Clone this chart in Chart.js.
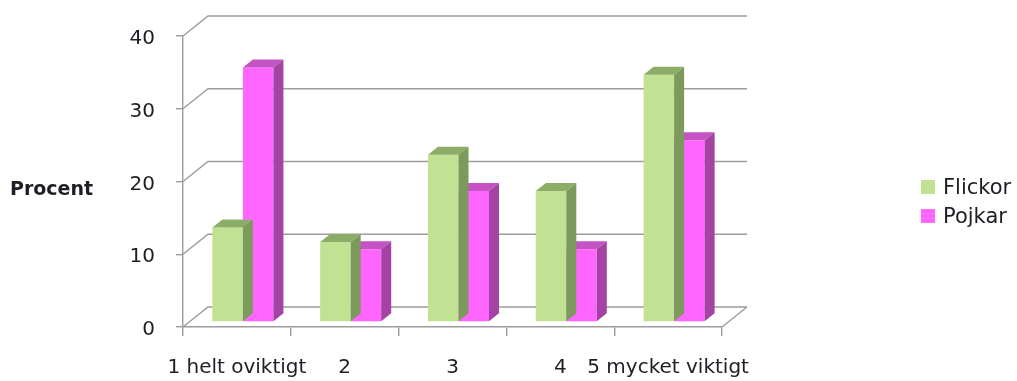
<!DOCTYPE html>
<html>
<head>
<meta charset="utf-8">
<script src="https://cdn.jsdelivr.net/npm/chart.js@4/dist/chart.umd.min.js"></script>
<style>
  html, body { margin: 0; padding: 0; background: #ffffff; }
  #wrap { width: 1017px; height: 381px; }
</style>
</head>
<body>
<div id="wrap"><canvas id="chart" width="1017" height="381"></canvas></div>
<script>
// Survey answers, share of respondents in percent
const categories = ['1 helt oviktigt', '2', '3', '4', '5 mycket viktigt'];
const flickor = [13, 11, 23, 18, 34];
const pojkar = [35, 10, 18, 10, 25];
const seriesNames = ['Flickor', 'Pojkar'];
const yTickValues = [0, 10, 20, 30, 40];
const axisTitle = 'Procent';

// Face colours for the pseudo-3D columns: front, side, top
const palette = [
  { front: '#c0e292', side: '#7b9a5c', top: '#8cad68' },
  { front: '#ff66ff', side: '#a443a4', top: '#c453c4' }
];

const FONT = 'DejaVu Sans';
const TEXT = '#1e1e24';
const GRID = '#9c9c9c';
const DEPTH = { x: 25, y: -20 };   // floor/wall depth
const PLANE = { x: 6, y: -5 };     // where the columns stand inside the box
const BAR_DEPTH = { x: 10, y: -8 }; // thickness of each column

const box3d = {
  id: 'box3d',
  beforeDatasetsDraw(chart) {
    const { ctx, chartArea: a, scales: { y } } = chart;
    ctx.save();
    ctx.strokeStyle = GRID;
    ctx.lineWidth = 1.4;
    ctx.beginPath();
    yTickValues.forEach(v => {
      const py = y.getPixelForValue(v);
      ctx.moveTo(a.left, py);
      ctx.lineTo(a.left + DEPTH.x, py + DEPTH.y);
      ctx.lineTo(a.right + DEPTH.x, py + DEPTH.y);
    });
    ctx.moveTo(a.right, a.bottom);
    ctx.lineTo(a.right + DEPTH.x, a.bottom + DEPTH.y);
    ctx.stroke();
    ctx.restore();
    // columns stand a little behind the front edge of the floor
    ctx.save();
    ctx.translate(PLANE.x, PLANE.y);
  },
  afterDatasetDraw(chart, args) {
    const { ctx } = chart;
    const col = palette[args.index];
    args.meta.data.forEach(el => {
      const { x, y, base, width } = el.getProps(['x', 'y', 'base', 'width'], true);
      const l = x - width / 2, r = x + width / 2;
      ctx.fillStyle = col.top;
      ctx.beginPath();
      ctx.moveTo(l, y);
      ctx.lineTo(r, y);
      ctx.lineTo(r + BAR_DEPTH.x, y + BAR_DEPTH.y);
      ctx.lineTo(l + BAR_DEPTH.x, y + BAR_DEPTH.y);
      ctx.closePath();
      ctx.fill();
      ctx.fillStyle = col.side;
      ctx.beginPath();
      ctx.moveTo(r, y);
      ctx.lineTo(r + BAR_DEPTH.x, y + BAR_DEPTH.y);
      ctx.lineTo(r + BAR_DEPTH.x, base + BAR_DEPTH.y);
      ctx.lineTo(r, base);
      ctx.closePath();
      ctx.fill();
    });
  },
  afterDatasetsDraw(chart) {
    chart.ctx.restore();
  },
  afterDraw(chart) {
    const { ctx } = chart;
    ctx.save();
    // horizontal axis title on the left
    ctx.fillStyle = TEXT;
    ctx.font = 'bold 19px "' + FONT + '"';
    ctx.textBaseline = 'middle';
    ctx.textAlign = 'left';
    ctx.fillText(axisTitle, 10, 190);
    // legend
    ctx.font = '21px "' + FONT + '"';
    chart.data.datasets.forEach((ds, i) => {
      const top = 180 + i * 29;
      ctx.fillStyle = ds.backgroundColor;
      ctx.fillRect(921, top, 14, 14);
      ctx.fillStyle = TEXT;
      ctx.fillText(ds.label, 943, top + 9);
    });
    ctx.restore();
  }
};

new Chart(document.getElementById('chart'), {
  type: 'bar',
  data: {
    labels: categories,
    datasets: [
      { label: seriesNames[0], data: flickor, backgroundColor: palette[0].front },
      { label: seriesNames[1], data: pojkar, backgroundColor: palette[1].front }
    ]
  },
  options: {
    responsive: false,
    animation: false,
    events: [],
    datasets: { bar: { barPercentage: 1, categoryPercentage: 0.566, clip: false, borderWidth: 0 } },
    layout: { padding: { left: 0, top: 36, right: 295, bottom: 0 } },
    plugins: { legend: { display: false }, tooltip: { enabled: false } },
    scales: {
      x: {
        offset: true,
        grid: { offset: true, drawOnChartArea: false, drawTicks: true, tickLength: 9, color: GRID, lineWidth: 1.4 },
        border: { display: true, color: GRID, width: 1.4 },
        ticks: { color: TEXT, font: { family: FONT, size: 20 }, padding: 20, maxRotation: 0, autoSkip: false },
        afterFit(s) { s.height = 54; }
      },
      y: {
        min: 0, max: 40,
        afterBuildTicks(s) { s.ticks = yTickValues.map(v => ({ value: v })); },
        grid: { drawOnChartArea: false, drawTicks: true, tickLength: 7, color: GRID, lineWidth: 1.4 },
        border: { display: true, color: GRID, width: 1.4 },
        ticks: { color: TEXT, font: { family: FONT, size: 20 }, padding: 21, labelOffset: 3 },
        afterFit(s) { s.width = 183; }
      }
    }
  },
  plugins: [box3d]
});
</script>
</body>
</html>
